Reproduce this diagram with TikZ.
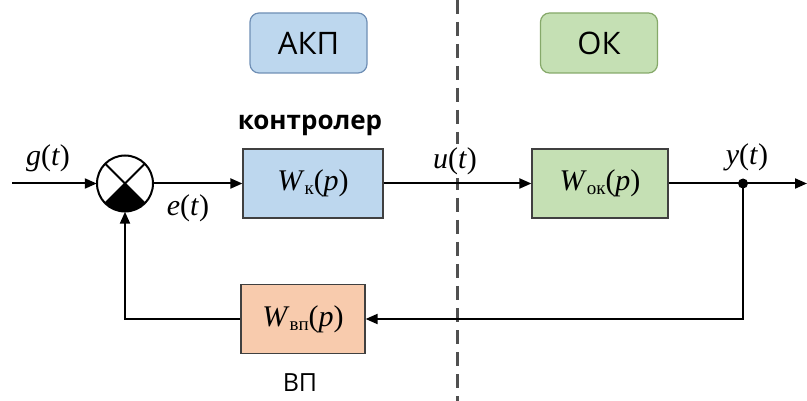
\documentclass[tikz,border=0pt]{standalone}
\usepackage{fontspec}
\setmainfont{Liberation Serif}
\newfontfamily\labfont{Open Sans}
\usetikzlibrary{arrows.meta,calc}
\definecolor{blueF}{HTML}{BDD7EE}
\definecolor{blueB}{HTML}{6F8FB5}
\definecolor{greenF}{HTML}{C5E0B4}
\definecolor{greenB}{HTML}{86A96A}
\definecolor{peachF}{HTML}{F8CBAD}
\definecolor{boxB}{HTML}{404040}
\definecolor{dashC}{HTML}{505050}
\newcommand{\msub}[1]{\raisebox{-0.3ex}{\fontsize{19}{19}\selectfont #1}}
\newcommand{\mathtxt}[2]{\fontsize{30}{34}\selectfont\textit{#1}\msub{#2}(\textit{p})}
\newcommand{\sig}[1]{\fontsize{30}{34}\selectfont\textit{#1}(\textit{t})}
\tikzset{
  tagbox/.style={rounded corners=9pt, line width=1.2pt, minimum width=117pt, minimum height=60pt, font=\labfont\fontsize{31}{36}\selectfont, inner sep=0pt},
  blockbox/.style={draw=boxB, line width=1.2pt, minimum height=69pt, inner sep=0pt},
  conn/.style={line width=2pt, draw=black},
  arr/.style={conn, -{Triangle[length=12pt,width=10pt]}},
  lbl/.style={inner sep=0pt},
}
\begin{document}
\begin{tikzpicture}[x=1pt,y=1pt]
\useasboundingbox (0,0) rectangle (807,-401);
% dashed separator
\draw[dashC, line width=3pt, dash pattern=on 14pt off 8pt] (457,0) -- (457,-401);
% tag boxes
\node[tagbox, draw=blueB, fill=blueF] (akp) at (308.5,-43) {АКП};
\node[tagbox, draw=greenB, fill=greenF] (ok) at (599,-43) {ОК};
% blocks
\node[blockbox, fill=blueF, minimum width=140pt] (wk) at (313,-183.5) {\mathtxt{W}{к}};
\node[blockbox, fill=greenF, minimum width=136pt] (wok) at (600,-183.5) {\mathtxt{W}{ок}};
\node[blockbox, fill=peachF, minimum width=124pt] (wvp) at (303,-319) {\mathtxt{W}{вп}};
% labels
\node[lbl, font=\labfont\bfseries\fontsize{26}{30}\selectfont] (kontr) at (310,-125) {контролер};
\node[lbl, font=\labfont\fontsize{25}{30}\selectfont] (vp) at (300,-383) {ВП};
% summing junction
\coordinate (sc) at (125,-183.5);
\fill[black] (sc) -- ++(225:28) arc[start angle=225, end angle=315, radius=28] -- cycle;
\draw[line width=2pt] (sc) circle[radius=28];
\draw[line width=2pt] ($(sc)+(45:28)$) -- ($(sc)+(225:28)$);
\draw[line width=2pt] ($(sc)+(135:28)$) -- ($(sc)+(315:28)$);
\node[circle, minimum size=56pt, inner sep=0pt] (sum) at (sc) {};
% signals
\coordinate (in) at (12,-183.5);
\coordinate (out) at (807,-183.5);
\coordinate (dot) at (743,-183.5);
\coordinate (fbr) at (743,-319);
\coordinate (fbl) at (125,-319);
\draw[arr] (in) -- (sum.west);
\draw[arr] (sum.east) -- (wk.west);
\draw[arr] (wk.east) -- (wok.west);
\draw[arr] (wok.east) -- (out);
\fill (dot) circle[radius=5pt];
\draw[arr] (dot) -- (fbr) -- (wvp.east);
\draw[arr] (wvp.west) -- (fbl) -- (sum.south);
\node[lbl] (g) at (48,-158) {\sig{g}};
\node[lbl] (e) at (188,-208) {\sig{e}};
\node[lbl, fill=white, inner xsep=2pt, inner ysep=3pt] (u) at (455,-161) {\sig{u}};
\node[lbl] (y) at (747,-157) {\sig{y}};
\end{tikzpicture}
\end{document}
